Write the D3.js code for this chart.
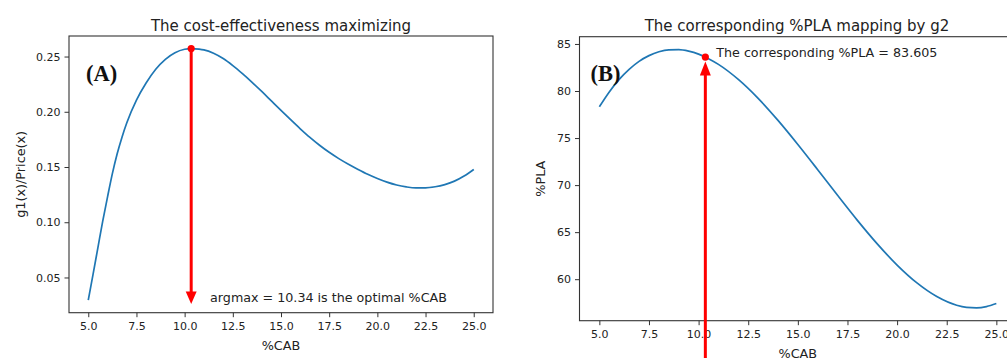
<!DOCTYPE html>
<html>
<head>
<meta charset="utf-8">
<script src="https://cdn.jsdelivr.net/npm/d3@7"></script>
<style>
  html, body { margin: 0; padding: 0; background: #fff; }
  svg { display: block; }
  text { font-family: "DejaVu Sans", sans-serif; fill: #222; }
  .panel-tag { font-family: "Liberation Serif", "Times New Roman", serif; font-weight: bold; fill: #111; }
</style>
</head>
<body>
<svg id="chart" width="1007" height="358"></svg>
<script>
// %CAB sample points
const cabA = [5.0, 5.25, 5.5, 5.75, 6.0, 6.25, 6.5, 6.75, 7.0, 7.5, 8.0, 8.5, 9.0, 9.5, 10.0, 10.34,
  10.75, 11.0, 11.5, 12.0, 12.5, 13.0, 13.5, 14.0, 14.5, 15.0, 15.5, 16.0, 16.5, 17.0, 17.5,
  18.0, 18.5, 19.0, 19.5, 20.0, 20.5, 21.0, 21.5, 22.0, 22.5, 23.0, 23.5, 24.0, 24.5, 25.0];
// cost-effectiveness g1(x)/Price(x)
const ratioA = [0.0295, 0.0530, 0.0770, 0.1010, 0.1230, 0.1440, 0.1620, 0.1770, 0.1900, 0.2105,
  0.2260, 0.2385, 0.2475, 0.2535, 0.2566, 0.2572, 0.2567, 0.2560, 0.2530, 0.2482, 0.2418, 0.2345,
  0.2267, 0.2184, 0.2098, 0.2012, 0.1928, 0.1846, 0.1768, 0.1697, 0.1633, 0.1576, 0.1525, 0.1478,
  0.1434, 0.1396, 0.1363, 0.1337, 0.1320, 0.1311, 0.1311, 0.1321, 0.1341, 0.1372, 0.1418, 0.1478];

const cabB = [5.0, 5.5, 6.0, 6.5, 7.0, 7.5, 8.0, 8.5, 9.0, 9.5, 10.0, 10.34, 10.5, 11.0, 12.0, 13.0,
  14.0, 15.0, 16.0, 17.0, 18.0, 19.0, 20.0, 21.0, 22.0, 23.0, 23.5, 24.0, 24.5, 25.0];
// %PLA mapped by g2
const plaB = [78.32, 79.90, 81.23, 82.30, 83.15, 83.76, 84.17, 84.38, 84.40, 84.24, 83.92, 83.605,
  83.44, 82.83, 81.23, 79.22, 76.88, 74.32, 71.64, 68.91, 66.25, 63.75, 61.50, 59.60, 58.15,
  57.23, 57.01, 56.96, 57.09, 57.41];

const xTicks = [5.0, 7.5, 10.0, 12.5, 15.0, 17.5, 20.0, 22.5, 25.0];
const yTicksA = [0.05, 0.10, 0.15, 0.20, 0.25];
const yTicksB = [60, 65, 70, 75, 80, 85];

// optimum and annotations
const argmaxCab = 10.34;
const argmaxRatio = 0.2572;
const arrowTipA = 0.026;
const plaAtArgmax = 83.605;
const arrowTailB = 50;
const noteA = { x: 11.32, y: 0.028, text: "argmax = 10.34 is the optimal %CAB" };
const noteB = { x: 10.89, y: 83.605, text: "The corresponding %PLA = 83.605" };

const svg = d3.select("#chart");
const lineColor = "#1f77b4";
const red = "#ff0000";
const tickFont = 11, labelFont = 12.8, titleFont = 15, noteFont = 12.7;

function padded(values) {
  const [lo, hi] = d3.extent(values);
  const p = (hi - lo) * 0.05;
  return [lo - p, hi + p];
}

function panel(opt) {
  const { left, right, top, bottom } = opt.box;
  const x = d3.scaleLinear().domain(padded(opt.xs)).range([left, right]);
  const y = d3.scaleLinear().domain(padded(opt.ys)).range([bottom, top]);
  const g = svg.append("g");

  // frame
  g.append("rect").attr("x", left).attr("y", top)
    .attr("width", right - left).attr("height", bottom - top)
    .attr("fill", "none").attr("stroke", "#333").attr("stroke-width", 1.1);

  const xAxis = g.append("g").attr("transform", `translate(0,${bottom})`)
    .call(d3.axisBottom(x).tickValues(xTicks).tickFormat(d3.format(".1f")).tickSizeOuter(0).tickSize(4.5).tickPadding(5));
  const yAxis = g.append("g").attr("transform", `translate(${left},0)`)
    .call(d3.axisLeft(y).tickValues(opt.yTicks).tickFormat(opt.yFormat).tickSizeOuter(0).tickSize(4.5).tickPadding(4));
  [xAxis, yAxis].forEach(a => {
    a.select(".domain").remove();
    a.selectAll(".tick line").attr("stroke", "#333");
    a.selectAll(".tick text").attr("font-size", tickFont).attr("fill", "#222")
      .attr("font-family", "DejaVu Sans, sans-serif");
  });

  // title and axis labels
  g.append("text").attr("x", opt.titleX).attr("y", 30.5)
    .attr("text-anchor", "middle").attr("font-size", titleFont).text(opt.title);
  g.append("text").attr("x", (left + right) / 2).attr("y", bottom + 37)
    .attr("text-anchor", "middle").attr("font-size", labelFont).text("%CAB");
  g.append("text").attr("transform", `translate(${opt.yLabelX},${(top + bottom) / 2}) rotate(-90)`)
    .attr("text-anchor", "middle").attr("font-size", labelFont).text(opt.yLabel);

  // curve
  g.append("path").datum(opt.xs.map((d, i) => [d, opt.ys[i]]))
    .attr("fill", "none").attr("stroke", lineColor).attr("stroke-width", 1.7)
    .attr("d", d3.line().x(d => x(d[0])).y(d => y(d[1])).curve(d3.curveMonotoneX));

  return { g, x, y };
}

// (A) cost-effectiveness
const A = panel({
  box: { left: 69, right: 493, top: 36, bottom: 312.7 },
  xs: cabA, ys: ratioA, yTicks: yTicksA, yFormat: d3.format(".2f"),
  title: "The cost-effectiveness maximizing", titleX: 281, yLabel: "g1(x)/Price(x)", yLabelX: 25
});
{
  const { g, x, y } = A;
  const px = x(argmaxCab), y0 = y(argmaxRatio), tip = y(arrowTipA);
  const headH = 12.5, headW = 11;
  g.append("line").attr("x1", px).attr("x2", px).attr("y1", y0).attr("y2", tip - headH + 1)
    .attr("stroke", red).attr("stroke-width", 3);
  g.append("path").attr("fill", red)
    .attr("d", `M${px},${tip}L${px - headW / 2},${tip - headH}L${px + headW / 2},${tip - headH}Z`);
  g.append("circle").attr("cx", px).attr("cy", y0).attr("r", 3.6).attr("fill", red);
  g.append("text").attr("x", x(noteA.x)).attr("y", y(noteA.y)).attr("font-size", noteFont).text(noteA.text);
  g.append("text").attr("class", "panel-tag").attr("x", 86).attr("y", 80.5).attr("font-size", 22.5).text("(A)");
}

// (B) corresponding %PLA
const B = panel({
  box: { left: 579.5, right: 1016.2, top: 36.7, bottom: 320.7 },
  xs: cabB, ys: plaB, yTicks: yTicksB, yFormat: d3.format("d"),
  title: "The corresponding %PLA mapping by g2", titleX: 797, yLabel: "%PLA", yLabelX: 544.5
});
{
  const { g, x, y } = B;
  const px = x(argmaxCab), y0 = y(plaAtArgmax), tip = y0 + 4.5;
  const headH = 14, headW = 11;
  g.append("line").attr("x1", px).attr("x2", px).attr("y1", y(arrowTailB)).attr("y2", tip + headH - 1)
    .attr("stroke", red).attr("stroke-width", 3);
  g.append("path").attr("fill", red)
    .attr("d", `M${px},${tip}L${px - headW / 2},${tip + headH}L${px + headW / 2},${tip + headH}Z`);
  g.append("circle").attr("cx", px).attr("cy", y0).attr("r", 3.6).attr("fill", red);
  g.append("text").attr("x", x(noteB.x)).attr("y", y(noteB.y)).attr("font-size", noteFont).text(noteB.text);
  g.append("text").attr("class", "panel-tag").attr("x", 590.5).attr("y", 80.5).attr("font-size", 22.5).text("(B)");
}
</script>
</body>
</html>
